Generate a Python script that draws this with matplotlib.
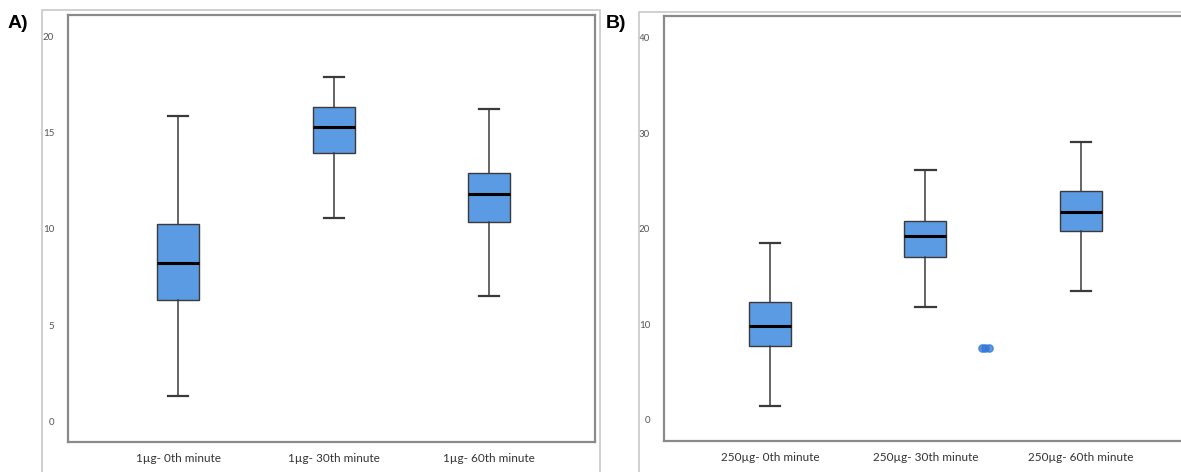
import matplotlib
matplotlib.use("Agg")
import matplotlib.pyplot as plt
from matplotlib.patches import Rectangle

# ---- data ----
labels_a = ["1µg- 0th minute", "1µg- 30th minute", "1µg- 60th minute"]
whislo_a = [1.35, 10.57, 6.53]
q1_a = [6.32, 13.94, 10.36]
med_a = [8.24, 15.28, 11.80]
q3_a = [10.26, 16.32, 12.90]
whishi_a = [15.85, 17.87, 16.20]
yticks_a = [0, 5, 10, 15, 20]

labels_b = ["250µg- 0th minute", "250µg- 30th minute", "250µg- 60th minute"]
whislo_b = [1.47, 11.8, 13.5]
q1_b = [7.75, 17.07, 19.8]
med_b = [9.84, 19.3, 21.8]
q3_b = [12.36, 20.8, 23.98]
whishi_b = [18.5, 26.2, 29.1]
yticks_b = [0, 10, 20, 30, 40]
outliers_b = [7.55, 7.55, 7.55]   # outliers in the 30th-minute group

W, H = 1181, 472
fig = plt.figure(figsize=(W / 100, H / 100), dpi=100)

BOX = "#5b9be3"
SPINE = "#8a8a8a"
FRAME = "#c8c8c8"
font = ["Lato", "DejaVu Sans"]


def fx(px):
    return px / W


def fy(py):
    return 1 - py / H


# outer frames
for (x0, y0, x1, y1) in [(42, 10, 600, 480), (639, 12, 1190, 480)]:
    fig.patches.append(Rectangle((fx(x0), fy(y1)), fx(x1 - x0), fy(y0) - fy(y1),
                                 transform=fig.transFigure, fill=False,
                                 edgecolor=FRAME, linewidth=1.2))


def panel(box_px, lows, q1s, meds, q3s, highs, labels, yticks, ylim, xlim):
    x0, y0, x1, y1 = box_px
    ax = fig.add_axes([fx(x0), fy(y1), fx(x1 - x0), fy(y0) - fy(y1)])
    stats = []
    for lo, a, m, b, hi, lab in zip(lows, q1s, meds, q3s, highs, labels):
        stats.append(dict(whislo=lo, q1=a, med=m, q3=b, whishi=hi, label=lab, fliers=[]))
    ax.bxp(stats, positions=[1, 2, 3], widths=0.27, patch_artist=True,
           showfliers=False, capwidths=0.13,
           boxprops=dict(facecolor=BOX, edgecolor="#3a3a3a", linewidth=1.0),
           medianprops=dict(color="black", linewidth=2.2),
           whiskerprops=dict(color="#3a3a3a", linewidth=1.1),
           capprops=dict(color="#3a3a3a", linewidth=1.6))
    ax.set_xlim(*xlim)
    ax.set_ylim(*ylim)
    ax.set_yticks(yticks)
    ax.set_yticklabels([str(t) for t in yticks], fontsize=7, color="#555555",
                       family=font)
    ax.set_xticks([1, 2, 3])
    ax.set_xticklabels(labels, fontsize=8.5, color="#333333", family=font)
    ax.tick_params(axis="both", length=0)
    ax.tick_params(axis="y", pad=10)
    ax.tick_params(axis="x", pad=8)
    for s in ax.spines.values():
        s.set_color(SPINE)
        s.set_linewidth(1.6)
    return ax


ax_a = panel((68, 15, 595, 442), whislo_a, q1_a, med_a, q3_a, whishi_a, labels_a,
             yticks_a, (-1.05, 21.1), (0.29, 3.68))
ax_b = panel((664, 16, 1190, 441), whislo_b, q1_b, med_b, q3_b, whishi_b, labels_b,
             yticks_b, (-2.2, 42.3), (0.32, 3.70))

offsets = [-0.035, -0.015, 0.01]
ax_b.scatter([2 + 0.4 + o for o in offsets], outliers_b, s=28, color="#2f77d9",
             edgecolors="#2f77d9", zorder=5, alpha=0.75)

lab_font = ["Liberation Sans", "DejaVu Sans"]
fig.text(fx(8), fy(23), "A)", fontsize=14, fontweight="bold", va="center", family=lab_font)
fig.text(fx(606), fy(23), "B)", fontsize=14, fontweight="bold", va="center", family=lab_font)

fig.savefig("out.png", dpi=100)
